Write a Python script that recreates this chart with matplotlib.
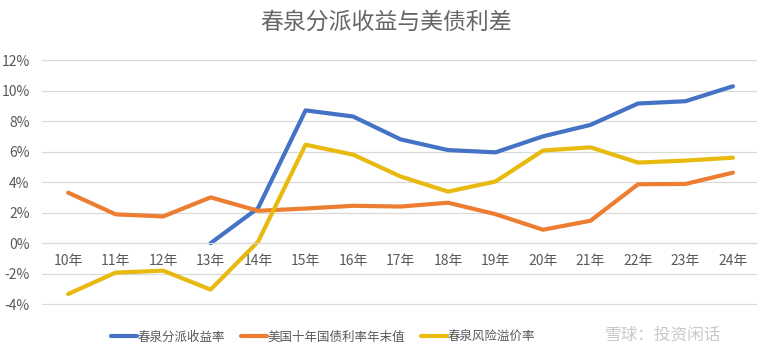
import matplotlib
matplotlib.use("Agg")
import matplotlib.pyplot as plt
from matplotlib.ticker import FuncFormatter
import numpy as np

plt.rcParams['font.family'] = ['Noto Sans CJK SC', 'DejaVu Sans']

years = ["10年", "11年", "12年", "13年", "14年", "15年", "16年", "17年", "18年", "19年", "20年", "21年", "22年", "23年", "24年"]
dividend_yield = [None, None, None, 0.0, 2.3, 8.7, 8.3, 6.8, 6.1, 5.95, 7.0, 7.75, 9.15, 9.3, 10.28]
us10y = [3.31, 1.89, 1.75, 3.0, 2.12, 2.27, 2.45, 2.4, 2.65, 1.9, 0.88, 1.47, 3.86, 3.88, 4.62]
risk_premium = [-3.33, -1.93, -1.8, -3.04, 0.1, 6.45, 5.8, 4.37, 3.38, 4.04, 6.07, 6.28, 5.28, 5.41, 5.6]

series_names = ["春泉分派收益率", "美国十年国债利率年末值", "春泉风险溢价率"]
colors = ["#4472C4", "#ED7D31", "#E8B90E"]

fig = plt.figure(figsize=(7.71, 3.53), dpi=100)
ax = fig.add_axes([0.0545, 0.136, 0.927, 0.694])

x = np.arange(len(years))
yvals = [np.array([np.nan if v is None else v for v in s], dtype=float) for s in (dividend_yield, us10y, risk_premium)]
for ys, c, n in zip(yvals, colors, series_names):
    ax.plot(x, ys, color=c, lw=3.0, label=n, solid_capstyle='round', solid_joinstyle='round')

ax.set_xlim(-0.55, len(years) - 1 + 0.5)
ax.set_ylim(-4.05, 12)
ax.set_yticks(np.arange(-4, 13, 2))
ax.yaxis.set_major_formatter(FuncFormatter(lambda v, p: f"{v:.0f}%"))
ax.grid(axis='y', color='#D9D9D9', lw=0.9)
ax.set_axisbelow(True)
for s in ['top', 'right', 'left']:
    ax.spines[s].set_visible(False)
ax.spines['bottom'].set_position(('data', 0))
ax.spines['bottom'].set_color('#D9D9D9')
ax.set_xticks(x)
ax.set_xticklabels(years)
ax.tick_params(axis='x', length=0, pad=8, labelsize=10, labelcolor='#595959')
ax.tick_params(axis='y', length=0, pad=9, labelsize=10, labelcolor='#595959')

fig.text(0.5, 0.937, "春泉分派收益与美债利差", ha='center', va='center', fontsize=16.5, color='#666666')

leg = fig.legend(loc='center', bbox_to_anchor=(0.419, 0.045), ncol=3, frameon=False,
                 fontsize=9, handlelength=2.1, handletextpad=0.0, columnspacing=1.3)
for t in leg.get_texts():
    t.set_color('#595959')

fig.text(0.86, 0.05, "雪球：投资闲话", ha='center', va='center', fontsize=12, color='#BBBBBB', alpha=0.8)

fig.savefig("out.png", dpi=100, facecolor='white')
